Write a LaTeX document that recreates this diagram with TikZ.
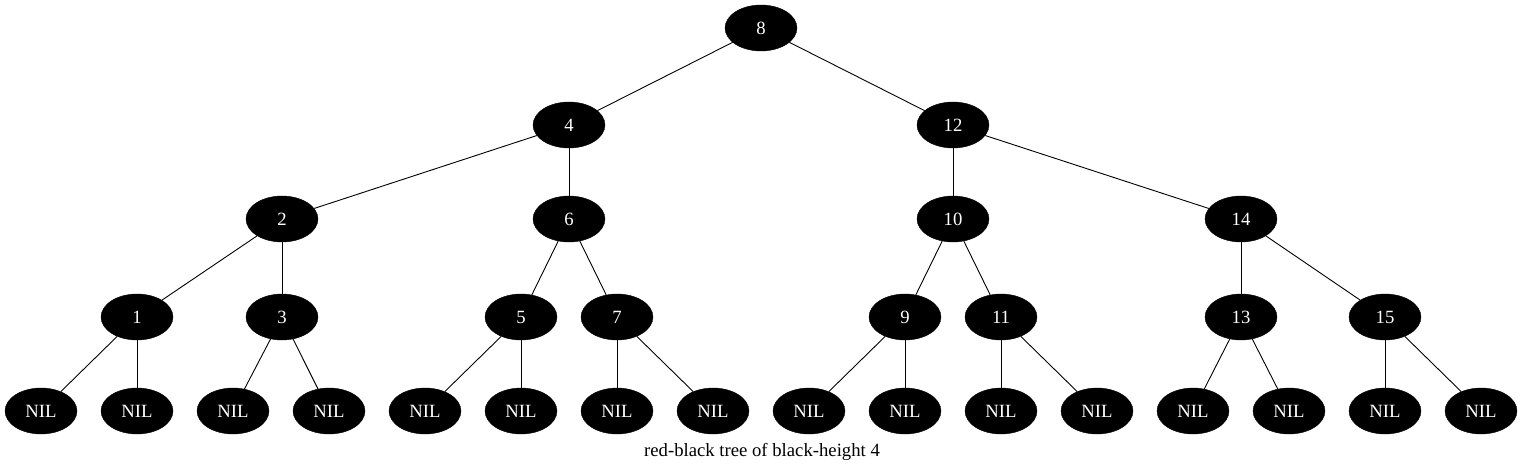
\documentclass[tikz,border=0pt]{standalone}
\usepackage{fontspec}
\setmainfont{Liberation Serif}
\usetikzlibrary{shapes.geometric}

\begin{document}
\begin{tikzpicture}[
  x=1pt,y=-1pt,
  rb/.style={ellipse,fill=black,draw=black,text=white,minimum width=72pt,
             minimum height=46pt,inner sep=0pt,font=\fontsize{18.7}{22}\selectfont},
  edge/.style={draw=black,line width=0.9pt}
]
\useasboundingbox (0,0) rectangle (1523,473);
\node[rb] (n8) at (761,28) {8};
\node[rb] (n4) at (569,125) {4};
\node[rb] (n12) at (953,125) {12};
\node[rb] (n2) at (282,219) {2};
\node[rb] (n6) at (569,219) {6};
\node[rb] (n10) at (953,219) {10};
\node[rb] (n14) at (1241,219) {14};
\node[rb] (n1) at (137,317) {1};
\node[rb] (n3) at (282,317) {3};
\node[rb] (n5) at (521,317) {5};
\node[rb] (n7) at (617,317) {7};
\node[rb] (n9) at (905,317) {9};
\node[rb] (n11) at (1001,317) {11};
\node[rb] (n13) at (1241,317) {13};
\node[rb] (n15) at (1385,317) {15};

\node[rb] (l1) at (41,411) {NIL};
\node[rb] (l2) at (137,411) {NIL};
\node[rb] (l3) at (233,411) {NIL};
\node[rb] (l4) at (329,411) {NIL};
\node[rb] (l5) at (425,411) {NIL};
\node[rb] (l6) at (521,411) {NIL};
\node[rb] (l7) at (617,411) {NIL};
\node[rb] (l8) at (713,411) {NIL};
\node[rb] (l9) at (809,411) {NIL};
\node[rb] (l10) at (905,411) {NIL};
\node[rb] (l11) at (1001,411) {NIL};
\node[rb] (l12) at (1097,411) {NIL};
\node[rb] (l13) at (1193,411) {NIL};
\node[rb] (l14) at (1289,411) {NIL};
\node[rb] (l15) at (1385,411) {NIL};
\node[rb] (l16) at (1481,411) {NIL};

\node[font=\fontsize{18.7}{22}\selectfont] (cap) at (762,452) {red-black tree of black-height 4};

\draw[edge] (n8)--(n4); \draw[edge] (n8)--(n12);
\draw[edge] (n4)--(n2); \draw[edge] (n4)--(n6); \draw[edge] (n12)--(n10); \draw[edge] (n12)--(n14);
\draw[edge] (n2)--(n1); \draw[edge] (n2)--(n3); \draw[edge] (n6)--(n5); \draw[edge] (n6)--(n7);
\draw[edge] (n10)--(n9); \draw[edge] (n10)--(n11); \draw[edge] (n14)--(n13); \draw[edge] (n14)--(n15);
\draw[edge] (n1)--(l1); \draw[edge] (n1)--(l2); \draw[edge] (n3)--(l3); \draw[edge] (n3)--(l4);
\draw[edge] (n5)--(l5); \draw[edge] (n5)--(l6); \draw[edge] (n7)--(l7); \draw[edge] (n7)--(l8);
\draw[edge] (n9)--(l9); \draw[edge] (n9)--(l10); \draw[edge] (n11)--(l11); \draw[edge] (n11)--(l12);
\draw[edge] (n13)--(l13); \draw[edge] (n13)--(l14); \draw[edge] (n15)--(l15); \draw[edge] (n15)--(l16);
\end{tikzpicture}
\end{document}
